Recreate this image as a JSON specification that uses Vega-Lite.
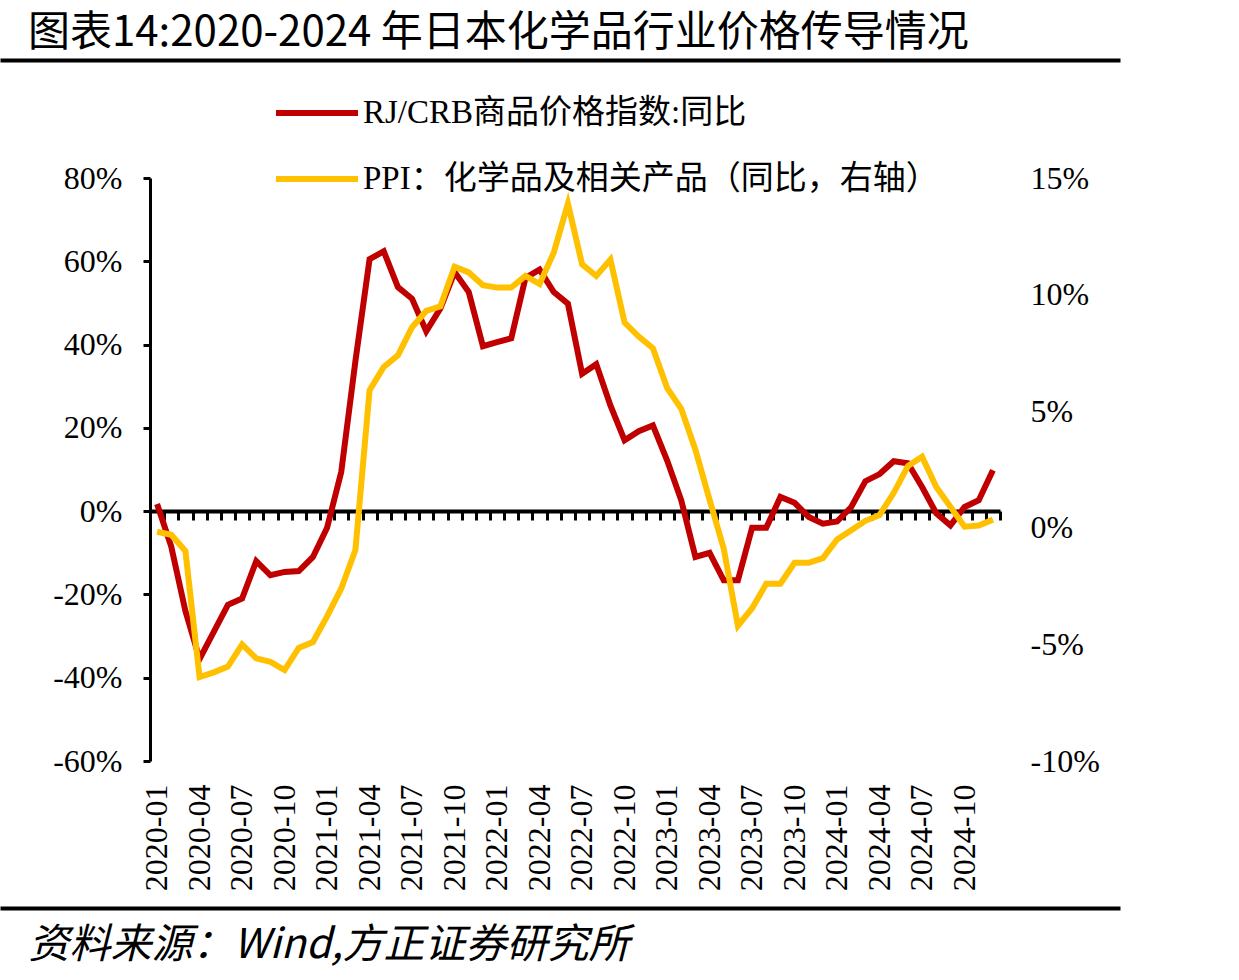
{
"$schema":"https://vega.github.io/schema/vega-lite/v6.json",
"width":1120,"height":583,
"autosize":{"type":"none"},
"padding":{"left":0,"top":178,"right":119,"bottom":219},
"background":"white",
"config":{"view":{"stroke":null},"axis":{"grid":false,"domainColor":"black","tickColor":"black","labelColor":"black","labelFont":"Liberation Serif","labelFontSize":32,"titleColor":"black"}},
"title":{"text":"图表14:2020-2024 年日本化学品行业价格传导情况","font":"Noto Sans CJK SC","fontSize":42,"fontWeight":"normal","color":"black","anchor":"start","frame":"group","dx":28,"dy":7,"offset":12},
"data":{"values":[
{"m":"2020-01","a":1.7,"b":-0.17},{"m":"2020-02","a":-8.5,"b":-0.3},{"m":"2020-03","a":-24,"b":-1.0},{"m":"2020-04","a":-35.5,"b":-6.4},{"m":"2020-05","a":-29,"b":-6.2},{"m":"2020-06","a":-22.5,"b":-5.95},{"m":"2020-07","a":-21,"b":-5.0},{"m":"2020-08","a":-12,"b":-5.6},{"m":"2020-09","a":-15.4,"b":-5.75},{"m":"2020-10","a":-14.6,"b":-6.1},{"m":"2020-11","a":-14.4,"b":-5.15},{"m":"2020-12","a":-11,"b":-4.9},
{"m":"2021-01","a":-4,"b":-3.8},{"m":"2021-02","a":9.4,"b":-2.6},{"m":"2021-03","a":36,"b":-0.95},{"m":"2021-04","a":60.5,"b":5.9},{"m":"2021-05","a":62.4,"b":6.9},{"m":"2021-06","a":53.8,"b":7.4},{"m":"2021-07","a":51,"b":8.6},{"m":"2021-08","a":43.2,"b":9.3},{"m":"2021-09","a":48.7,"b":9.5},{"m":"2021-10","a":57.4,"b":11.2},{"m":"2021-11","a":52.6,"b":10.95},{"m":"2021-12","a":39.6,"b":10.4},
{"m":"2022-01","a":40.6,"b":10.3},{"m":"2022-02","a":41.5,"b":10.3},{"m":"2022-03","a":56,"b":10.8},{"m":"2022-04","a":58,"b":10.45},{"m":"2022-05","a":52.6,"b":11.8},{"m":"2022-06","a":49.8,"b":13.9},{"m":"2022-07","a":33,"b":11.3},{"m":"2022-08","a":35.3,"b":10.8},{"m":"2022-09","a":25.4,"b":11.5},{"m":"2022-10","a":17,"b":8.8},{"m":"2022-11","a":19.2,"b":8.2},{"m":"2022-12","a":20.6,"b":7.7},
{"m":"2023-01","a":12.2,"b":6.0},{"m":"2023-02","a":2.6,"b":5.1},{"m":"2023-03","a":-11,"b":3.35},{"m":"2023-04","a":-10,"b":1.2},{"m":"2023-05","a":-16.6,"b":-0.9},{"m":"2023-06","a":-16.6,"b":-4.2},{"m":"2023-07","a":-4,"b":-3.45},{"m":"2023-08","a":-4,"b":-2.4},{"m":"2023-09","a":3.4,"b":-2.4},{"m":"2023-10","a":2,"b":-1.5},{"m":"2023-11","a":-1.4,"b":-1.5},{"m":"2023-12","a":-3,"b":-1.3},
{"m":"2024-01","a":-2.5,"b":-0.5},{"m":"2024-02","a":1,"b":-0.1},{"m":"2024-03","a":7.2,"b":0.3},{"m":"2024-04","a":8.9,"b":0.55},{"m":"2024-05","a":12,"b":1.5},{"m":"2024-06","a":11.5,"b":2.65},{"m":"2024-07","a":5.8,"b":3.05},{"m":"2024-08","a":-0.5,"b":1.75},{"m":"2024-09","a":-3.4,"b":0.9},{"m":"2024-10","a":1,"b":0.05},{"m":"2024-11","a":2.6,"b":0.1},{"m":"2024-12","a":9.8,"b":0.35}
]},
"resolve":{"scale":{"x":"independent","y":"independent"},"axis":{"x":"independent","y":"independent"}},
"layer":[
{"mark":{"type":"point","opacity":0},
 "encoding":{
  "x":{"field":"m","type":"ordinal","scale":{"type":"point"},
       "axis":{"orient":"top","offset":118,"domain":true,"domainWidth":4,"domainColor":"black","ticks":false,"labels":false,"title":null}}}},
{"mark":{"type":"point","opacity":0},
 "encoding":{
  "x":{"field":"m","type":"ordinal","scale":{"type":"point"},
       "axis":{"orient":"bottom","offset":147,"domain":true,"domainWidth":4,"domainColor":"black","ticks":false,"labels":false,
         "title":"资料来源：Wind,方正证券研究所","titleFont":"Noto Sans CJK SC","titleFontSize":41,"titleFontStyle":"italic","titleFontWeight":"normal","titleAnchor":"start","titleAlign":"left","titleBaseline":"middle","titleX":28,"titleY":37}}}},
{"mark":{"type":"line","strokeWidth":6},
 "encoding":{
  "x":{"field":"m","type":"ordinal","bandPosition":0.5,"scale":{"type":"band","paddingInner":0,"paddingOuter":0,"range":[150,1000]},
       "axis":{"orient":"bottom","offset":-250,"domain":true,"domainWidth":4,"labels":false,"ticks":true,"tickBand":"extent","tickSize":9,"tickWidth":3,"title":null}},
  "y":{"field":"a","type":"quantitative","scale":{"domain":[-60,80],"nice":false,"zero":false},
       "axis":{"orient":"left","offset":-150,"values":[-60,-40,-20,0,20,40,60,80],"labelExpr":"datum.value + '%'","domain":true,"domainWidth":3,"ticks":true,"tickSize":7,"tickWidth":3,"labelPadding":21,"title":null}},
  "color":{"datum":"RJ/CRB商品价格指数:同比","type":"nominal",
    "scale":{"domain":["RJ/CRB商品价格指数:同比","PPI：化学品及相关产品（同比，右轴）"],"range":["#C00000","#FFC000"]},
    "legend":{"orient":"none","legendX":273,"legendY":-109,"title":null,"direction":"vertical","symbolType":"stroke","symbolSize":6724,"symbolStrokeWidth":6,"labelFont":"Liberation Serif, Noto Sans CJK SC","labelFontSize":33,"labelColor":"black","labelOffset":2,"rowPadding":5,"labelLimit":0}}}},
{"mark":{"type":"line","strokeWidth":6},
 "encoding":{
  "x":{"field":"m","type":"ordinal","bandPosition":0.5,"scale":{"type":"band","paddingInner":0,"paddingOuter":0,"range":[150,1000]},
       "axis":{"orient":"bottom","offset":0,"domain":false,"ticks":false,"tickSize":0,"labels":true,
         "values":["2020-01","2020-04","2020-07","2020-10","2021-01","2021-04","2021-07","2021-10","2022-01","2022-04","2022-07","2022-10","2023-01","2023-04","2023-07","2023-10","2024-01","2024-04","2024-07","2024-10"],
         "labelAngle":-90,"labelPadding":23,"labelOverlap":false,"labelFlush":false,"title":null}},
  "y":{"field":"b","type":"quantitative","scale":{"domain":[-10,15],"nice":false,"zero":false},
       "axis":{"orient":"right","offset":-120,"values":[-10,-5,0,5,10,15],"labelExpr":"datum.value + '%'","domain":false,"ticks":false,"tickSize":0,"labelPadding":30,"title":null}},
  "color":{"datum":"PPI：化学品及相关产品（同比，右轴）","type":"nominal"}}}
]
}
